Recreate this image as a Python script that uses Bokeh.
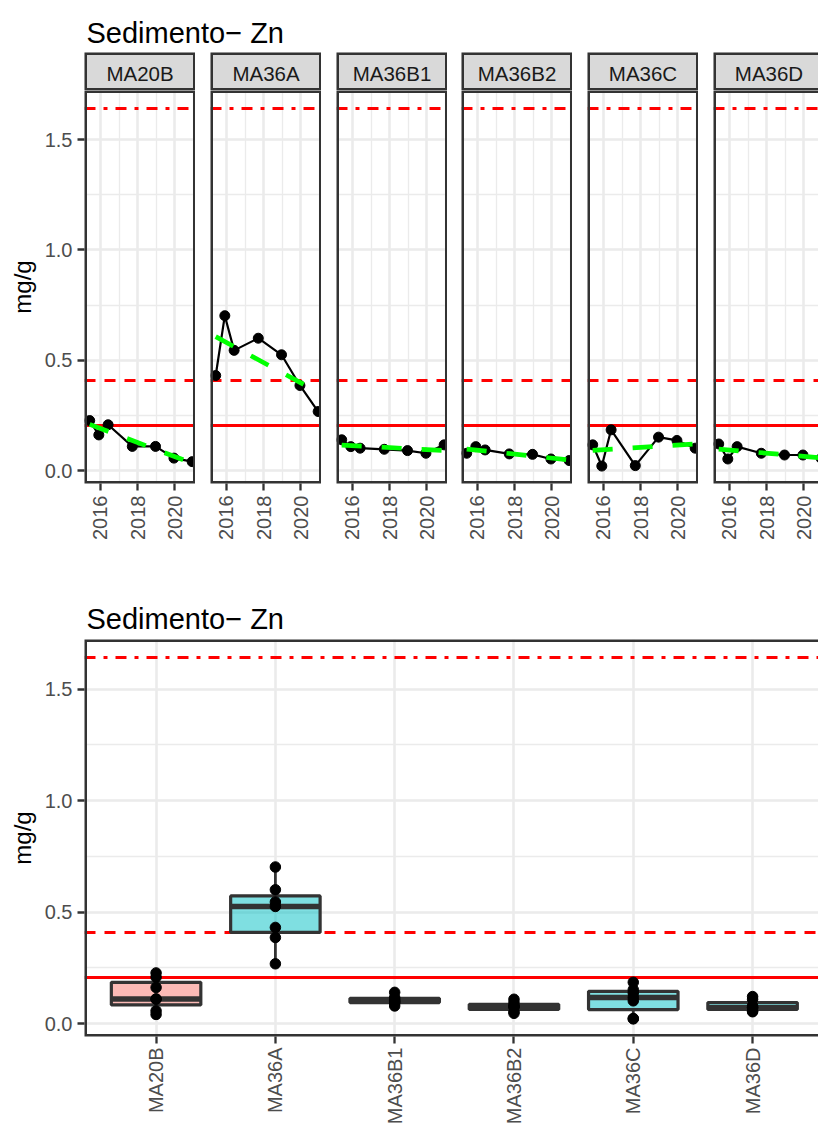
import math
import numpy as np
from bokeh.plotting import figure
from bokeh.layouts import column, row
from bokeh.models import Range1d, SingleIntervalTicker, FixedTicker, PrintfTickFormatter
from bokeh.core.properties import value
from bokeh.embed import file_html
from bokeh.resources import INLINE

# ---------------- data ----------------
title_text = "Sedimento\u2212 Zn"
y_label = "mg/g"
sites = ["MA20B", "MA36A", "MA36B1", "MA36B2", "MA36C", "MA36D"]
sample_dates = [2015.42, 2015.91, 2016.41, 2017.71, 2018.96, 2019.95, 2020.93]
zn_MA20B = [0.227, 0.162, 0.208, 0.110, 0.110, 0.057, 0.041]
zn_MA36A = [0.431, 0.702, 0.545, 0.600, 0.525, 0.386, 0.268]
zn_MA36B1 = [0.140, 0.109, 0.102, 0.097, 0.091, 0.079, 0.117]
zn_MA36B2 = [0.079, 0.109, 0.094, 0.076, 0.074, 0.053, 0.046]
zn_MA36C = [0.117, 0.021, 0.185, 0.023, 0.152, 0.137, 0.102]
zn_MA36D = [0.121, 0.053, 0.109, 0.079, 0.071, 0.071, 0.056]
zn_by_site = [zn_MA20B, zn_MA36A, zn_MA36B1, zn_MA36B2, zn_MA36C, zn_MA36D]
box_group = ["a", "b", "b", "b", "b", "b"]
limit_values = [0.205, 0.41, 1.64]

# ---------------- styles ----------------
FONT = "Liberation Sans"
group_colors = {"a": "#F8766D", "b": "#00BFC4"}
limit_dashes = ["solid", "11 9", "11 8 4 8"]
GRID = "#EBEBEB"
DARK = "#333333"
Y0, Y1 = -0.058, 1.722
X0, X1 = 2015.14, 2021.11
PANEL_W = 111
LEFT = 84
left_gaps = [LEFT, 15, 15, 14, 15, 15]
frame_ws = [111, 111, 111, 111, 111, 105]
STRIP_H = 38
PANEL_H = 393
TOP_BOTTOM = 70
FULL_W = 818
BOT_FRAME_W = FULL_W - LEFT
BOT_FRAME_H = 397
BOT_BOTTOM = 92
CAT_PX = 119.3


def style_axis(ax):
    ax.axis_line_color = None
    ax.major_tick_line_color = DARK
    ax.major_tick_line_width = 2.3
    ax.major_tick_out = 7
    ax.major_tick_in = 0
    ax.minor_tick_line_color = None
    ax.major_label_text_font = FONT
    ax.major_label_text_font_size = "20px"
    ax.major_label_text_color = "#4D4D4D"
    ax.axis_label_text_font = FONT
    ax.axis_label_text_font_size = "24px"
    ax.axis_label_text_font_style = "normal"
    ax.axis_label_text_color = "#000000"


def style_grid(g, ticker):
    g.ticker = ticker
    g.grid_line_color = GRID
    g.grid_line_width = 2.6
    g.minor_grid_line_color = GRID
    g.minor_grid_line_width = 1.3


def title_fig(h, baseline):
    t = figure(width=FULL_W, height=h, x_range=Range1d(0, BOT_FRAME_W),
               y_range=Range1d(h, 0), toolbar_location=None, output_backend="svg",
               x_axis_type=None, y_axis_type=None, min_border_left=LEFT,
               min_border_right=0, min_border_top=0, min_border_bottom=0,
               outline_line_color=None)
    t.text(x=[2], y=[baseline], text=[title_text], text_font=value(FONT),
           text_font_size="29px", text_baseline="alphabetic", text_align="left",
           text_color="#000000")
    return t


def add_limits(p):
    for v, d in zip(limit_values, limit_dashes):
        p.hspan(y=[v], line_color="#FF0000", line_width=2.8, line_dash=d)


# ---------------- top: faceted time series ----------------
strips = []
panels = []
for i, site in enumerate(sites):
    fw = frame_ws[i]
    xend = X0 + (X1 - X0) * fw / PANEL_W
    xr = Range1d(X0, xend)
    vals = zn_by_site[i]

    s = figure(width=left_gaps[i] + fw, height=STRIP_H, x_range=xr, y_range=Range1d(0, 1),
               toolbar_location=None, output_backend="svg", x_axis_type=None,
               y_axis_type=None, min_border_left=left_gaps[i], min_border_right=0,
               min_border_top=0, min_border_bottom=0, outline_line_color=None)
    s.quad(left=[X0], right=[X1], bottom=[0], top=[1], fill_color="#D9D9D9",
           line_color=DARK, line_width=5)
    s.text(x=[(X0 + X1) / 2], y=[0.46], text=[site], text_align="center",
           text_baseline="middle", text_font=value(FONT), text_font_size="20.5px",
           text_color="#1A1A1A")
    strips.append(s)

    p = figure(width=left_gaps[i] + fw, height=PANEL_H + TOP_BOTTOM, x_range=xr,
               y_range=Range1d(Y0, Y1), toolbar_location=None, output_backend="svg",
               y_axis_location="left" if i == 0 else None,
               min_border_left=left_gaps[i], min_border_right=0, min_border_top=0,
               min_border_bottom=TOP_BOTTOM, outline_line_color=None)
    xt = SingleIntervalTicker(interval=2, num_minor_ticks=2)
    yt = SingleIntervalTicker(interval=0.5, num_minor_ticks=2)
    p.xaxis.ticker = xt
    style_axis(p.xaxis[0])
    p.xaxis.major_label_orientation = math.pi / 2
    p.xaxis.major_label_standoff = 5
    if i == 0:
        p.yaxis.ticker = yt
        p.yaxis.formatter = PrintfTickFormatter(format="%.1f")
        style_axis(p.yaxis[0])
        p.yaxis.major_label_standoff = 5
        p.yaxis.axis_label = y_label
        p.yaxis.axis_label_standoff = 6
    style_grid(p.xgrid[0], xt)
    style_grid(p.ygrid[0], yt)

    add_limits(p)
    p.line(sample_dates, vals, line_color="#000000", line_width=2.2)
    p.scatter(sample_dates, vals, size=10, color="#000000")
    coef = np.polyfit(sample_dates, vals, 1)
    tx = [min(sample_dates), max(sample_dates)]
    p.line(tx, list(np.polyval(coef, tx)), line_color="#00FF00", line_width=4.7,
           line_dash="20 20")
    p.quad(left=[X0], right=[X1], bottom=[Y0], top=[Y1], fill_color=None,
           line_color=DARK, line_width=5)
    panels.append(p)

# ---------------- bottom: boxplots ----------------
BX0 = 0.4
BX1 = BX0 + (len(sites) - 1 + 1.2)  # full ggplot discrete range
b = figure(width=FULL_W, height=BOT_FRAME_H + BOT_BOTTOM,
           x_range=Range1d(BX0, BX0 + BOT_FRAME_W / CAT_PX), y_range=Range1d(Y0, Y1),
           toolbar_location=None, output_backend="svg", min_border_left=LEFT,
           min_border_right=0, min_border_top=0, min_border_bottom=BOT_BOTTOM,
           outline_line_color=None)
bxt = FixedTicker(ticks=list(range(1, len(sites) + 1)))
byt = SingleIntervalTicker(interval=0.5, num_minor_ticks=2)
b.xaxis.ticker = bxt
b.xaxis.major_label_overrides = {k + 1: s for k, s in enumerate(sites)}
style_axis(b.xaxis[0])
b.xaxis.major_label_orientation = math.pi / 2
b.xaxis.major_label_standoff = 4
b.yaxis.ticker = byt
b.yaxis.formatter = PrintfTickFormatter(format="%.1f")
style_axis(b.yaxis[0])
b.yaxis.major_label_standoff = 5
b.yaxis.axis_label = y_label
b.yaxis.axis_label_standoff = 6
style_grid(b.xgrid[0], bxt)
b.xgrid.minor_grid_line_color = None
style_grid(b.ygrid[0], byt)

add_limits(b)
pos = np.arange(1, len(sites) + 1)
q1s, meds, q3s, los, his = [], [], [], [], []
for vals in zn_by_site:
    v = np.array(vals)
    q1, med, q3 = np.percentile(v, [25, 50, 75])
    iqr = q3 - q1
    lo = v[v >= q1 - 1.5 * iqr].min()
    hi = v[v <= q3 + 1.5 * iqr].max()
    q1s.append(q1); meds.append(med); q3s.append(q3); los.append(lo); his.append(hi)
q1s, meds, q3s, los, his = map(np.array, (q1s, meds, q3s, los, his))
b.segment(x0=pos, x1=pos, y0=q3s, y1=his, line_color=DARK, line_width=2.8)
b.segment(x0=pos, x1=pos, y0=q1s, y1=los, line_color=DARK, line_width=2.8)
b.vbar(x=pos, width=0.75, bottom=q1s, top=q3s,
       fill_color=[group_colors[g] for g in box_group], fill_alpha=0.5,
       line_color=DARK, line_width=3.2)
b.segment(x0=pos - 0.375, x1=pos + 0.375, y0=meds, y1=meds, line_color=DARK,
          line_width=5.5)
px = np.repeat(pos, [len(v) for v in zn_by_site])
py = np.concatenate([np.array(v) for v in zn_by_site])
b.scatter(px, py, size=10.5, color="#000000")
b.quad(left=[BX0], right=[BX1], bottom=[Y0], top=[Y1], fill_color=None,
       line_color=DARK, line_width=5)

layout = column(title_fig(52, 32.3), row(*strips), row(*panels), title_fig(86, 65.3), b)
open("out.html", "w").write(file_html(layout, INLINE))
